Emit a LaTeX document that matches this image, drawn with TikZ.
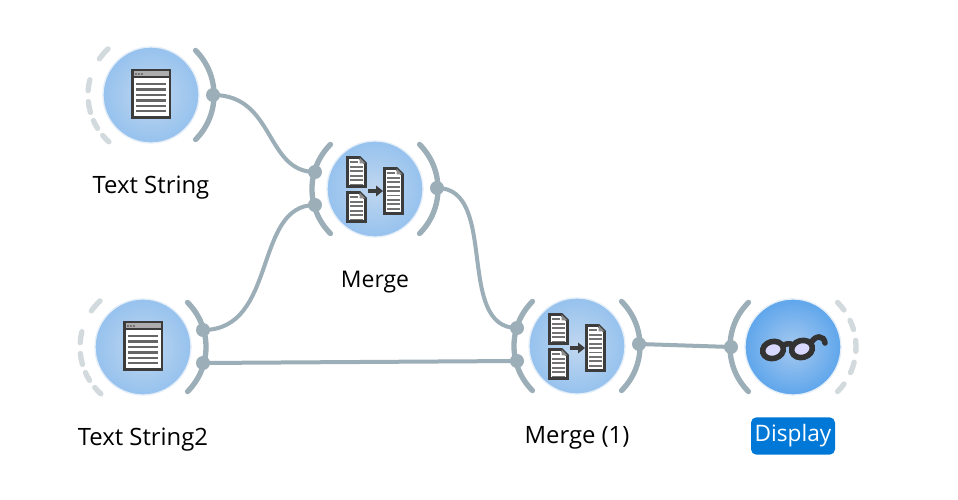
\documentclass[tikz,border=0pt]{standalone}
\usepackage{fontspec}
\setmainfont{Open Sans}
\usetikzlibrary{calc}
\definecolor{wire}{HTML}{9CAEB8}
\definecolor{dashc}{HTML}{D2DADD}
\definecolor{iconc}{HTML}{3C3C3C}
\definecolor{linec}{HTML}{666666}
\definecolor{badge}{HTML}{0078D7}
\definecolor{plainin}{HTML}{C0D7EF}
\definecolor{plainout}{HTML}{96C2EE}
\definecolor{dispin}{HTML}{A6C9EF}
\definecolor{dispout}{HTML}{5FA6EC}
\definecolor{halo}{HTML}{E4EEF8}
\tikzset{
  x=0.75pt,y=0.75pt,
  widget/.style={circle,minimum size=72pt,inner sep=0pt,draw=halo,line width=1pt},
  plainnode/.style={widget,inner color=plainin,outer color=plainout},
  dispnode/.style={widget,inner color=dispin,outer color=dispout},
  port/.style={circle,fill=wire,inner sep=0pt,minimum size=10.5pt},
  wirearc/.style={draw=wire,line width=4pt,line cap=round},
  dasharc/.style={draw=dashc,line width=4pt,line cap=round},
  conn/.style={draw=wire,line width=3pt},
  lab/.style={font=\fontsize{17.9pt}{20pt}\selectfont,text=black,inner sep=0pt},
  shortlab/.style={font=\fontsize{17.2pt}{20pt}\selectfont,text=black,inner sep=0pt},
  blab/.style={font=\fontsize{17pt}{20pt}\selectfont,text=white,fill=badge,rounded corners=4pt,minimum width=63pt,minimum height=28pt,inner sep=0pt},
  pics/windowicon/.style={code={
    \fill[iconc] (-20,26) rectangle (20,-24);
    \fill[white] (-17.5,23.5) rectangle (17.5,-21.5);
    \fill[black!32] (-17.5,23.5) rectangle (17.5,18.5);
    \fill[iconc] (-17.5,18.5) rectangle (17.5,17);
    \foreach \xx in {-15,-12,-9}
      \fill[iconc] (\xx,21) circle[radius=0.9];
    \foreach \yy in {11,5.4,0,-5.4,-10.8,-16.2}
      \fill[linec] (-15,\yy+1.2) rectangle (15,\yy-1.2);
  }},
  pics/docicon/.style={code={
    \draw[iconc,line width=2.2pt,fill=white,line join=miter] (0,0) -- (12,0) -- (18,-6) -- (18,-\h) -- (0,-\h) -- cycle;
    \fill[black!45] (12,0) -- (12,-6) -- (18,-6) -- cycle;
    \fill[black!55] (2.5,-4) rectangle (10,-5.8);
    \foreach \yy in {1,...,10}{
      \pgfmathsetmacro{\ty}{5+\yy*4.4}
      \pgfmathtruncatemacro{\ok}{\ty<(\h-2)?1:0}
      \ifnum\ok=1 \fill[black!55] (2.5,-\ty+0.9) rectangle (15.5,-\ty-0.9);\fi
    }
  }},
  pics/mergeicon/.style={code={
    \def\h{29}
    \pic at (-27.5,31.5) {docicon};
    \pic at (-27.5,-3.5) {docicon};
    \def\h{45}
    \pic at (9.5,20.5) {docicon};
    \fill[iconc] (-7,-3.8) rectangle (1,-0.2);
    \fill[iconc] (1,-7.5) -- (8,-2) -- (1,3.5) -- cycle;
  }},
  pics/glassicon/.style={code={
    \draw[color=black!80,fill=white!85!blue,line width=4.2pt] (-20,-3) ellipse [x radius=10.5,y radius=8.5,rotate=15];
    \draw[color=black!80,fill=white!85!blue,line width=4.2pt] (9,-2) ellipse [x radius=10.5,y radius=8.5,rotate=15];
    \draw[color=black!80,line width=4.2pt,line cap=round] (-10,1) .. controls (-7,4) and (-4,3) .. (-2,3);
    \draw[color=black!80,line width=4.2pt,line cap=round] (18,4) .. controls (22,12) and (31,12) .. (32,4);
  }}
}
\begin{document}
\begin{tikzpicture}
\useasboundingbox (0,0) rectangle (958,500);
\fill[white] (0,0) rectangle (958,500);

% Text String
\draw[wirearc] ($(151,405)+(45:63)$) arc[start angle=45,end angle=-45,radius=63];
\foreach \a/\b in {133/145,166/176,186/196,204/212,220/228}
  \draw[dasharc] ($(151,405)+(\a:63)$) arc[start angle=\a,end angle=\b,radius=63];
\node[plainnode] (ts) at (151,405) {};
\pic at (151,405) {windowicon};
\node[port] (tsout) at (213,405) {};
\node[lab] (tslab) at (151,312) {Text String};

% Text String2
\draw[wirearc] ($(143,153)+(45:63)$) arc[start angle=45,end angle=-45,radius=63];
\foreach \a/\b in {133/145,166/176,186/196,204/212,220/228}
  \draw[dasharc] ($(143,153)+(\a:63)$) arc[start angle=\a,end angle=\b,radius=63];
\node[plainnode] (tsb) at (143,153) {};
\pic at (143,153) {windowicon};
\node[port] (tsbouta) at (203,170) {};
\node[port] (tsboutb) at (203,137) {};
\node[lab] (tsblab) at (143,60) {Text String2};

% Merge
\draw[wirearc] ($(375,311)+(135:63)$) arc[start angle=135,end angle=225,radius=63];
\draw[wirearc] ($(375,311)+(45:63)$) arc[start angle=45,end angle=-45,radius=63];
\node[plainnode] (mg) at (375,311) {};
\pic at (375,311) {mergeicon};
\node[port] (mgina) at (315,328) {};
\node[port] (mginb) at (315,295) {};
\node[port] (mgout) at (437,312) {};
\node[shortlab] (mglab) at (375,218) {Merge};

% Merge (1)
\draw[wirearc] ($(577,154)+(135:63)$) arc[start angle=135,end angle=225,radius=63];
\draw[wirearc] ($(577,154)+(45:63)$) arc[start angle=45,end angle=-45,radius=63];
\node[plainnode] (mo) at (577,154) {};
\pic at (577,154) {mergeicon};
\node[port] (moina) at (517,172) {};
\node[port] (moinb) at (517,139) {};
\node[port] (moout) at (639,156) {};
\node[lab] (molab) at (577,62) {Merge (1)};

% Display
\draw[wirearc] ($(793,153)+(135:63)$) arc[start angle=135,end angle=225,radius=63];
\foreach \a/\b in {45/36,25/16,6/-4,-14/-24,-36/-45}
  \draw[dasharc] ($(793,153)+(\a:63)$) arc[start angle=\a,end angle=\b,radius=63];
\node[dispnode] (dp) at (793,153) {};
\pic at (793,153) {glassicon};
\node[port] (dpin) at (731,153) {};
\node[blab] (dplab) at (793,64) {\raisebox{-2pt}{Display}};

% Connectors
\draw[conn] (tsout.center) .. controls +(62,0) and +(-50,0) .. (mgina.center);
\draw[conn] (tsbouta.center) .. controls +(75,0) and +(-62,0) .. (mginb.center);
\draw[conn] (mgout.center) .. controls +(62,0) and +(-62,0) .. (moina.center);
\draw[conn] (tsboutb.center) -- (moinb.center);
\draw[conn] (moout.center) -- (dpin.center);
\end{tikzpicture}
\end{document}
